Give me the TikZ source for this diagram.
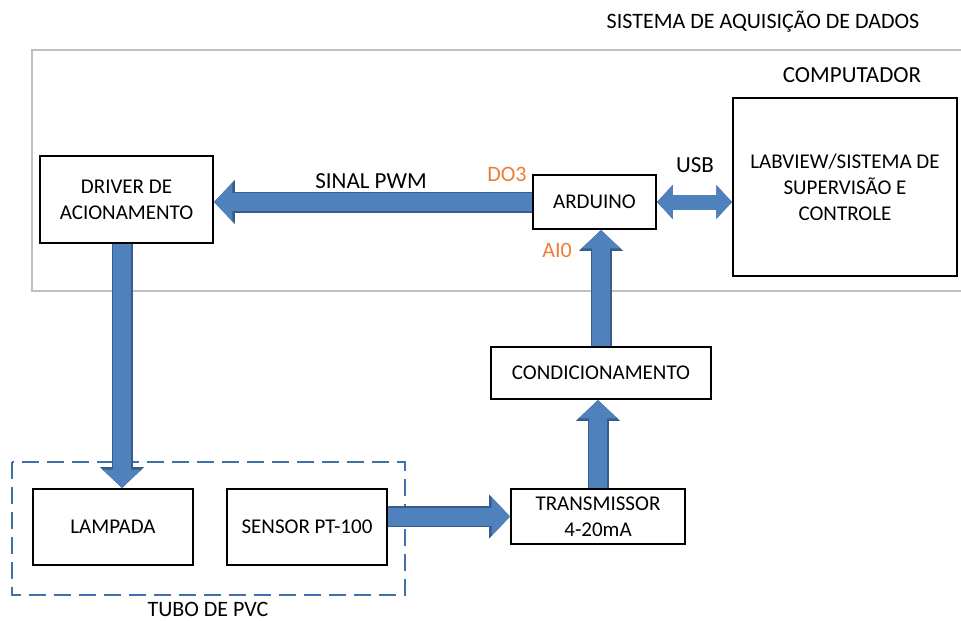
\documentclass[tikz,border=0pt]{standalone}
\usepackage{fontspec}
\setmainfont{Carlito}
\usepackage{tikz}
\usetikzlibrary{positioning, arrows.meta}
\definecolor{azul}{RGB}{79,129,189}
\definecolor{azulesc}{RGB}{56,93,138}
\definecolor{tracej}{RGB}{65,113,170}
\definecolor{laranja}{RGB}{237,125,49}
\definecolor{cinza}{RGB}{191,191,191}
\tikzset{
  bloco/.style={draw=black, line width=2pt, fill=white, align=center, inner sep=0pt, font=\fontsize{21}{26}\selectfont},
  rotulo/.style={inner sep=0pt, font=\fontsize{23}{27}\selectfont},
  pino/.style={rotulo, text=laranja, font=\fontsize{22}{26}\selectfont},
  fundo/.style={line width=21pt, draw=azulesc},
  frente/.style={line width=18pt, draw=azul},
  ponta/.style={-{Triangle[length=3pt 0.85, width=3pt 1.9]}},
  pontas/.style={{Triangle[length=3pt 0.85, width=3pt 2]}-{Triangle[length=3pt 0.85, width=3pt 2]}}
}
\newcommand{\ligar}[2]{\draw[fundo,#1] #2; \draw[frente,#1] #2;}

\begin{document}
\begin{tikzpicture}[x=1pt, y=-1pt]
		\useasboundingbox (0,0) rectangle (961,621);
		% moldura do sistema
		\draw[cinza, line width=2pt] (32,50) rectangle (990,291);
		\node[rotulo, font=\fontsize{22}{26}\selectfont] (titulo) at (763,22) {SISTEMA DE AQUISIÇÃO DE DADOS};
		\node[rotulo] (pc) at (852,75) {COMPUTADOR};
		% tubo
		\draw[tracej, line width=2pt, dash pattern=on 17pt off 8pt] (12,462) rectangle (405,595);
		\node[rotulo, font=\fontsize{22}{26}\selectfont] (tubo) at (208,609) {TUBO DE PVC};

		\node[bloco, minimum width=173, minimum height=87] (drv) at (126.5,199.5) {DRIVER DE\\ACIONAMENTO};
		\node[bloco, minimum width=123, minimum height=54] (ard) at (594.5,202) {ARDUINO};
		\node[bloco, minimum width=224, minimum height=178] (comp) at (845,187) {LABVIEW/SISTEMA DE\\SUPERVISÃO E\\CONTROLE};
		\node[bloco, minimum width=220, minimum height=52] (cond) at (601,373) {CONDICIONAMENTO};
		\node[bloco, minimum width=174, minimum height=55] (trans) at (598,516.5) {TRANSMISSOR\\4-20mA};
		\node[bloco, minimum width=160, minimum height=76] (lamp) at (113,527) {LAMPADA};
		\node[bloco, minimum width=160, minimum height=76] (sens) at (307,527) {SENSOR PT-100};

		\ligar{ponta}{(ard.west) -- (ard.west -| drv.east)}
		\ligar{ponta}{([xshift=-4.5pt]drv.south) -- ([xshift=-4.5pt]drv.south |- lamp.north)}
		\ligar{ponta}{(sens.east |- trans.west) -- (trans.west)}
		\ligar{ponta}{(trans.north) -- (trans.north |- cond.south)}
		\ligar{ponta}{(cond.north) -- (cond.north |- ard.south)}
		\ligar{pontas, line width=15pt}{(ard.east) -- (ard.east -| comp.west)}

		\node[rotulo] (pwm) at (371,181) {SINAL PWM};
		\node[rotulo] (usb) at (695,165) {USB};
		\node[pino] (do3) at (507,174) {DO3};
		\node[pino] (ai0) at (557,250) {AI0};
\end{tikzpicture}
\end{document}
